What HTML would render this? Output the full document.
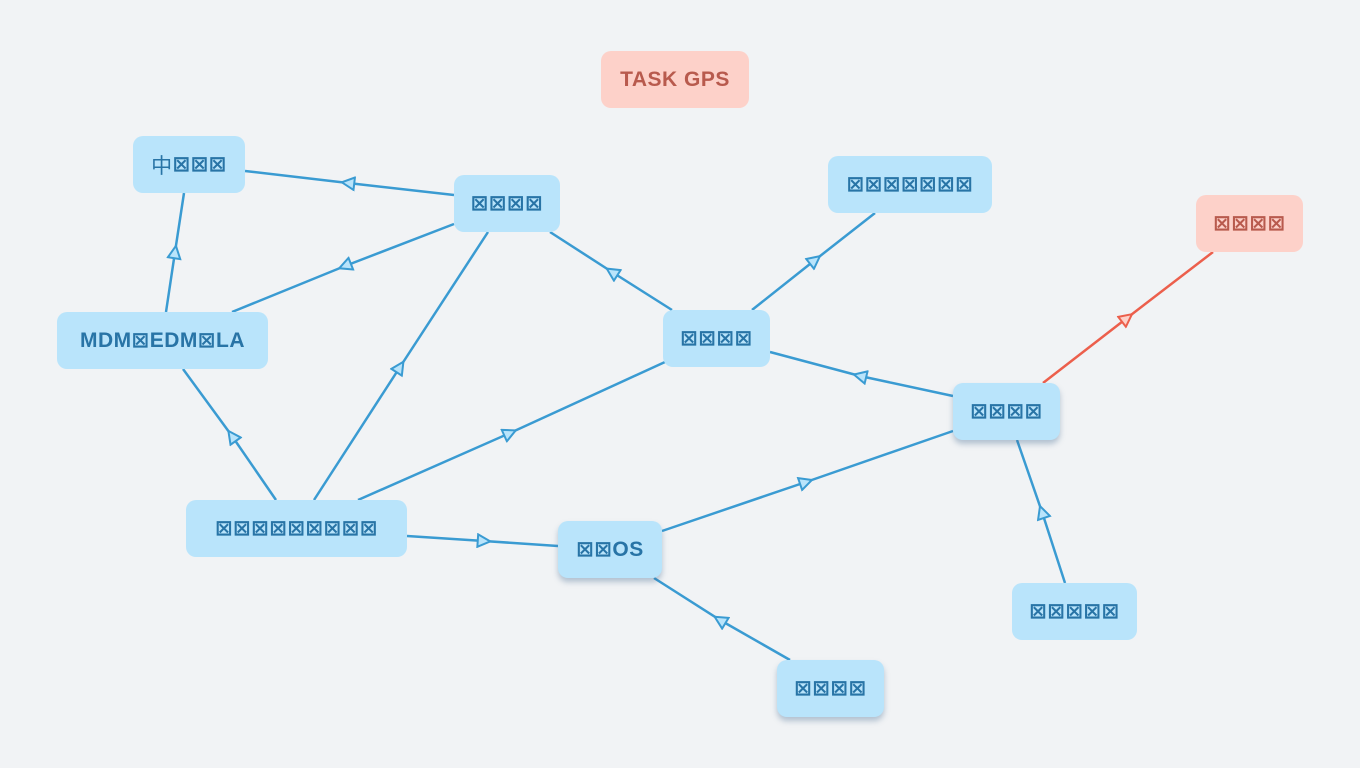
<!DOCTYPE html>
<html><head><meta charset="utf-8"><style>
body{margin:0;width:1360px;height:768px;background:#f1f3f5;overflow:hidden;position:relative;font-family:"Liberation Sans","DejaVu Sans","Noto Sans CJK SC",sans-serif}
.n{position:absolute;background:#b9e4fb;border-radius:10px;color:#2874a6;font-weight:bold;font-size:21px;display:flex;align-items:center;justify-content:center;letter-spacing:0.5px;box-sizing:border-box;height:57px}
.s{box-shadow:0 4px 6px rgba(60,100,140,.35)}
.r{background:#fdd1c9;color:#b85a4d}
svg{position:absolute;left:0;top:0}
</style></head><body>
<svg width="1360" height="768">
<defs>
<marker id="a" viewBox="0 0 12 12" refX="6" refY="6" markerWidth="15" markerHeight="15" markerUnits="userSpaceOnUse" orient="auto"><path d="M1,1 L11,6 L1,11 Z" fill="#b9e4fb" stroke="#3a9bd2" stroke-width="1.6"/></marker>
<marker id="b" viewBox="0 0 12 12" refX="6" refY="6" markerWidth="15" markerHeight="15" markerUnits="userSpaceOnUse" orient="auto"><path d="M1,1 L11,6 L1,11 Z" fill="#fdd1c9" stroke="#ec5f4c" stroke-width="1.6"/></marker>
</defs>
<g fill="none" stroke="#3a9bd2" stroke-width="2.5" marker-mid="url(#a)">
<polyline points="454,195 348,183 245,171"/>
<polyline points="454,224 345,266 232,312"/>
<polyline points="166,312 175,252 184,193"/>
<polyline points="276,500 232,436 183,369"/>
<polyline points="314,500 400,367 488,232"/>
<polyline points="358,500 510,433 665,362"/>
<polyline points="407,536 484,541 558,546"/>
<polyline points="672,310 612,272 550,232"/>
<polyline points="752,310 815,260 875,213"/>
<polyline points="953,396 860,376 770,352"/>
<polyline points="662,531 806,482 953,431"/>
<polyline points="1065,583 1042,512 1017,440"/>
<polyline points="790,660 720,620 654,578"/>
</g>
<polyline points="1043,383 1127,318 1213,252" fill="none" stroke="#ec5f4c" stroke-width="2.5" marker-mid="url(#b)"/>
</svg>
<div class="n r" style="left:601px;top:51px;width:148px">TASK GPS</div>
<div class="n" style="left:133px;top:136px;width:112px"><span style="font-weight:normal">中</span>⊠⊠⊠</div>
<div class="n" style="left:454px;top:175px;width:106px">⊠⊠⊠⊠</div>
<div class="n" style="left:828px;top:156px;width:164px">⊠⊠⊠⊠⊠⊠⊠</div>
<div class="n r" style="left:1196px;top:195px;width:107px">⊠⊠⊠⊠</div>
<div class="n" style="left:57px;top:312px;width:211px">MDM⊠EDM⊠LA</div>
<div class="n" style="left:663px;top:310px;width:107px">⊠⊠⊠⊠</div>
<div class="n s" style="left:953px;top:383px;width:107px">⊠⊠⊠⊠</div>
<div class="n" style="left:186px;top:500px;width:221px">⊠⊠⊠⊠⊠⊠⊠⊠⊠</div>
<div class="n s" style="left:558px;top:521px;width:104px">⊠⊠OS</div>
<div class="n" style="left:1012px;top:583px;width:125px">⊠⊠⊠⊠⊠</div>
<div class="n s" style="left:777px;top:660px;width:107px">⊠⊠⊠⊠</div>
</body></html>
